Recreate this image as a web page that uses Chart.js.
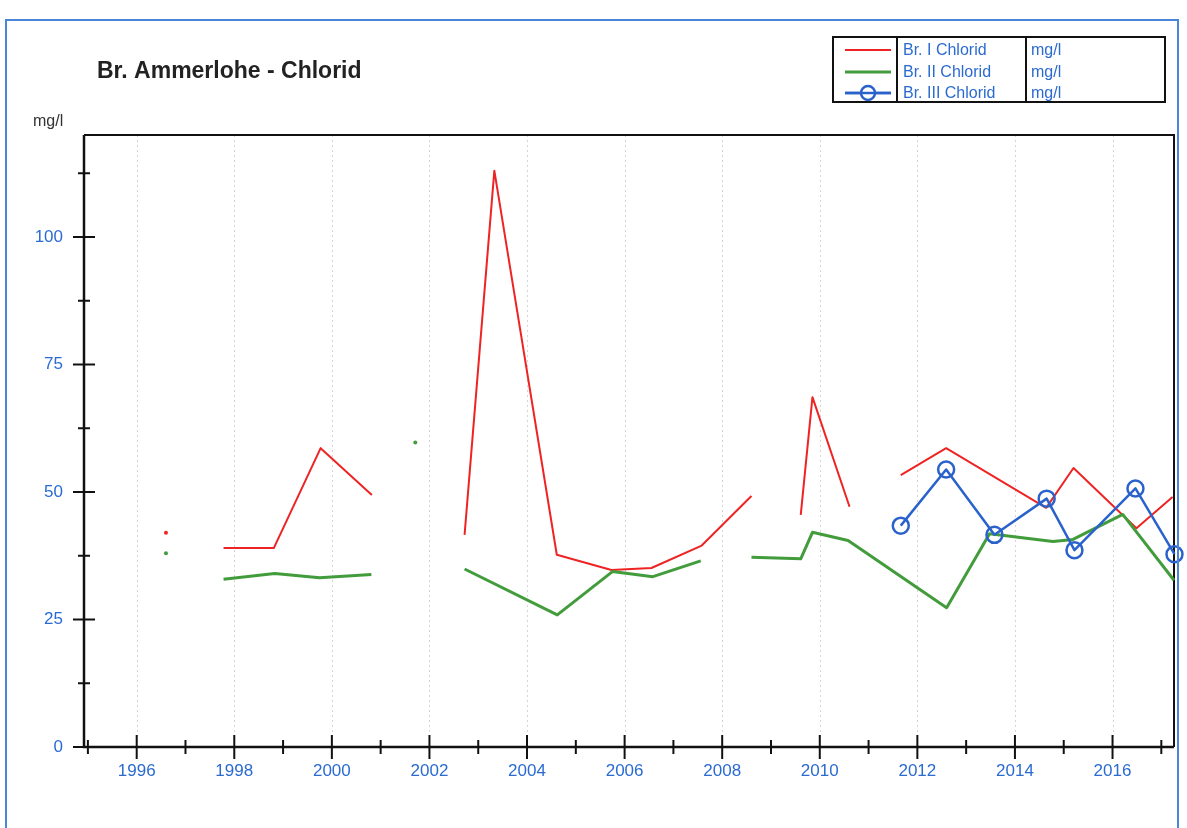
<!DOCTYPE html>
<html>
<head>
<meta charset="utf-8">
<script src="https://cdn.jsdelivr.net/npm/chart.js@4/dist/chart.umd.min.js"></script>
<style>
  html, body { margin: 0; padding: 0; background: #fff; }
  #wrap { position: relative; width: 1187px; height: 828px; overflow: hidden; }
  #frame { position: absolute; left: 5px; top: 19px; width: 1170px; height: 900px;
           border: 2px solid #4a86d8; pointer-events: none; }
</style>
</head>
<body>
<div id="wrap">
  <canvas id="chloridChart" width="1187" height="828"></canvas>
  <div id="frame"></div>
</div>
<script>
// Messwerte (Jahr als Dezimalzahl), null = Lücke in der Linie
const br1Dates  = [1996.6, 1997.2, 1997.78, 1998.81, 1999.77, 2000.82, 2001.8, 2002.72, 2003.33, 2004.61, 2005.73, 2006.55, 2007.58, 2008.6, 2009.1, 2009.61, 2009.85, 2010.61, 2011.1, 2011.66, 2012.59, 2014.64, 2015.2, 2016.49, 2017.23];
const br1Values = [42.0, null, 39.0, 39.0, 58.6, 49.4, null, 41.6, 113.0, 37.7, 34.7, 35.1, 39.5, 49.2, null, 45.5, 68.6, 47.1, null, 53.3, 58.6, 46.9, 54.7, 42.9, 49.0];

const br2Dates  = [1996.6, 1997.2, 1997.78, 1998.83, 1999.75, 2000.81, 2001.2, 2001.71, 2002.2, 2002.72, 2004.62, 2005.75, 2006.58, 2007.56, 2008.1, 2008.6, 2009.61, 2009.85, 2010.58, 2012.6, 2013.48, 2014.78, 2015.19, 2016.21, 2017.26];
const br2Values = [38.0, null, 32.9, 34.0, 33.2, 33.8, null, 59.7, null, 34.9, 25.9, 34.4, 33.4, 36.5, null, 37.2, 36.9, 42.1, 40.5, 27.3, 41.8, 40.3, 40.7, 45.6, 32.7];

const br3Dates  = [2011.66, 2012.59, 2013.58, 2014.65, 2015.22, 2016.47, 2017.27];
const br3Values = [43.4, 54.4, 41.6, 48.7, 38.6, 50.7, 37.8];

const seriesLabels = ['Br. I Chlorid', 'Br. II Chlorid', 'Br. III Chlorid'];
const unitLabel = 'mg/l';
const yearTicks = [1996, 1998, 2000, 2002, 2004, 2006, 2008, 2010, 2012, 2014, 2016];
const valueTicks = [0, 25, 50, 75, 100];

const RED = '#ee2424';
const GREEN = '#429c3c';
const BLUE = '#2a62cc';
const LABEL_BLUE = '#2b6bd1';
const FONT = '"Liberation Sans", Arial, sans-serif';

function toPoints(dates, values) {
  return dates.map((x, i) => ({ x: x, y: values[i] }));
}

// einzelne Messpunkte ohne Nachbarn als kleinen Punkt zeigen
function isolatedRadius(ctx) {
  const d = ctx.dataset.data;
  const i = ctx.dataIndex;
  if (!d[i] || d[i].y === null) return 0;
  const prev = i > 0 ? d[i - 1].y : null;
  const next = i < d.length - 1 ? d[i + 1].y : null;
  return (prev === null && next === null) ? 2 : 0;
}

const decorPlugin = {
  id: 'decor',
  beforeDatasetsDraw(chart) {
    const { ctx, chartArea: a, scales } = chart;
    const xs = scales.x, ys = scales.y;
    ctx.save();
    // senkrechte Hilfslinien
    ctx.strokeStyle = '#d4d4d4';
    ctx.lineWidth = 1;
    ctx.setLineDash([2, 3]);
    yearTicks.forEach(yr => {
      const px = Math.round(xs.getPixelForValue(yr)) + 0.5;
      ctx.beginPath(); ctx.moveTo(px, a.top); ctx.lineTo(px, a.bottom); ctx.stroke();
    });
    ctx.setLineDash([]);
    // Rahmen
    ctx.strokeStyle = '#111';
    ctx.lineWidth = 2;
    ctx.beginPath();
    ctx.moveTo(a.left, a.top); ctx.lineTo(a.right, a.top); ctx.lineTo(a.right, a.bottom);
    ctx.stroke();
    ctx.lineWidth = 2.5;
    ctx.beginPath();
    ctx.moveTo(a.left, a.top); ctx.lineTo(a.left, a.bottom); ctx.lineTo(a.right, a.bottom);
    ctx.stroke();
    // Striche y-Achse
    ctx.lineWidth = 2;
    for (let v = 0; v <= 112.5; v += 12.5) {
      const py = ys.getPixelForValue(v);
      const major = v % 25 === 0;
      const w = major ? 11 : 6;
      ctx.beginPath(); ctx.moveTo(a.left - w, py); ctx.lineTo(a.left + w, py); ctx.stroke();
    }
    // Striche x-Achse
    for (let yr = 1995; yr <= 2017; yr++) {
      const px = xs.getPixelForValue(yr);
      const w = yr % 2 === 0 ? 12 : 7;
      ctx.beginPath(); ctx.moveTo(px, a.bottom - w); ctx.lineTo(px, a.bottom + w); ctx.stroke();
    }
    ctx.restore();
  },
  afterDraw(chart) {
    const ctx = chart.ctx;
    ctx.save();
    // Titel
    ctx.fillStyle = '#222';
    ctx.font = 'bold 23px ' + FONT;
    ctx.textBaseline = 'alphabetic';
    ctx.fillText('Br. Ammerlohe - Chlorid', 97, 78);
    ctx.font = '16px ' + FONT;
    ctx.fillStyle = '#333';
    ctx.fillText(unitLabel, 33, 126);

    // Legende
    const bx = 833, by = 37, bw = 332, bh = 65;
    const c1 = 897, c2 = 1026;
    ctx.strokeStyle = '#111';
    ctx.lineWidth = 2;
    ctx.strokeRect(bx, by, bw, bh);
    ctx.beginPath();
    ctx.moveTo(c1, by); ctx.lineTo(c1, by + bh);
    ctx.moveTo(c2, by); ctx.lineTo(c2, by + bh);
    ctx.stroke();
    const rowY = [50, 72, 93];
    ctx.font = '16px ' + FONT;
    ctx.textBaseline = 'middle';
    chart.data.datasets.forEach((ds, i) => {
      const y = rowY[i];
      ctx.strokeStyle = ds.borderColor;
      ctx.lineWidth = ds.borderWidth;
      ctx.beginPath(); ctx.moveTo(845, y); ctx.lineTo(891, y); ctx.stroke();
      if (ds.pointRadius === 8) {
        ctx.beginPath(); ctx.arc(868, y, 7, 0, Math.PI * 2);
        ctx.fillStyle = '#fff'; ctx.fill(); ctx.stroke();
        ctx.beginPath(); ctx.moveTo(845, y); ctx.lineTo(891, y); ctx.stroke();
      }
      ctx.fillStyle = LABEL_BLUE;
      ctx.fillText(ds.label, 903, y + 1);
      ctx.fillText(unitLabel, 1031, y + 1);
    });
    ctx.restore();
  }
};

const config = {
  type: 'line',
  data: {
    datasets: [
      {
        label: seriesLabels[0],
        data: toPoints(br1Dates, br1Values),
        borderColor: RED,
        backgroundColor: RED,
        borderWidth: 2,
        borderJoinStyle: 'round',
        pointRadius: isolatedRadius,
        pointBorderWidth: 0,
        spanGaps: false,
        order: 2
      },
      {
        label: seriesLabels[1],
        data: toPoints(br2Dates, br2Values),
        borderColor: GREEN,
        backgroundColor: GREEN,
        borderWidth: 3,
        borderJoinStyle: 'round',
        pointRadius: isolatedRadius,
        pointBorderWidth: 0,
        spanGaps: false,
        order: 1
      },
      {
        label: seriesLabels[2],
        data: toPoints(br3Dates, br3Values),
        borderColor: BLUE,
        backgroundColor: 'rgba(255,255,255,0)',
        borderWidth: 2.5,
        borderJoinStyle: 'round',
        pointRadius: 8,
        pointBorderWidth: 2.5,
        pointBorderColor: BLUE,
        pointBackgroundColor: 'rgba(255,255,255,0)',
        pointStyle: 'circle',
        order: 0
      }
    ]
  },
  options: {
    responsive: false,
    animation: false,
    clip: false,
    layout: { padding: { top: 135, right: 13, left: 0, bottom: 0 } },
    plugins: {
      legend: { display: false },
      tooltip: { enabled: false },
      title: { display: false }
    },
    elements: { line: { tension: 0 } },
    scales: {
      x: {
        type: 'linear',
        min: 1994.92,
        max: 2017.26,
        grid: { display: false, drawTicks: false },
        border: { display: false },
        afterBuildTicks: (scale) => { scale.ticks = yearTicks.map(v => ({ value: v })); },
        afterFit: (scale) => { scale.height = 81; },
        ticks: {
          color: LABEL_BLUE,
          font: { family: FONT, size: 17 },
          padding: 14,
          maxRotation: 0,
          autoSkip: false,
          callback: (v) => String(v)
        }
      },
      y: {
        type: 'linear',
        min: 0,
        max: 120,
        grid: { display: false, drawTicks: false },
        border: { display: false },
        afterBuildTicks: (scale) => { scale.ticks = valueTicks.map(v => ({ value: v })); },
        afterFit: (scale) => { scale.width = 84; },
        ticks: {
          color: LABEL_BLUE,
          font: { family: FONT, size: 17 },
          padding: 21,
          callback: (v) => String(v)
        }
      }
    }
  },
  plugins: [decorPlugin]
};

const chloridChart = new Chart('chloridChart', config);
</script>
</body>
</html>
